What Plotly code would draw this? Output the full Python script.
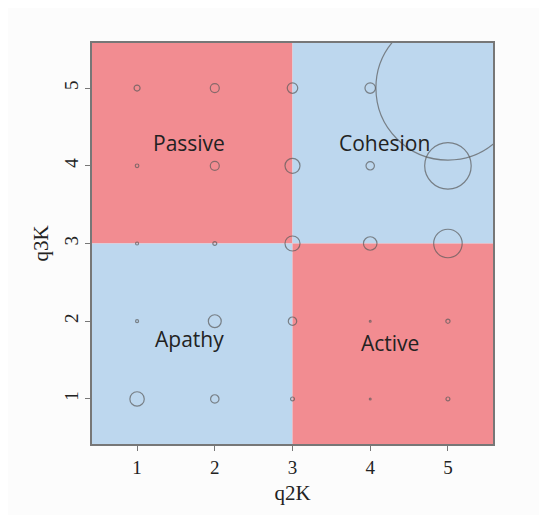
import plotly.graph_objects as go

# Data: grid points (q2K, q3K) and circle magnitude (radius units)
q2K = [1, 2, 3, 4, 5,
       1, 2, 3, 4, 5,
       1, 2, 3, 4, 5,
       1, 2, 3, 4, 5,
       1, 2, 3, 4, 5]
q3K = [5, 5, 5, 5, 5,
       4, 4, 4, 4, 4,
       3, 3, 3, 3, 3,
       2, 2, 2, 2, 2,
       1, 1, 1, 1, 1]
freq = [2, 3, 3.5, 3.5, 48,
        1.2, 3, 5, 2.8, 15.5,
        1, 1.3, 5, 4.5, 9.5,
        1, 4.3, 2.8, 0.6, 1.4,
        4.8, 2.8, 1.3, 0.6, 1.3]

quadrant_names = ["Passive", "Cohesion", "Apathy", "Active"]
label_x = [1.67, 4.19, 1.68, 4.25]
label_y = [4.29, 4.29, 1.77, 1.72]

RED = "#F28C91"
BLUE = "#BDD7EE"
lo, mid, hi = 0.42, 3.0, 5.58
px_per_unit = 1.5

fig = go.Figure()

quads = [(lo, mid, mid, hi, RED), (mid, hi, mid, hi, BLUE),
         (lo, mid, lo, mid, BLUE), (mid, hi, lo, mid, RED)]
for x0, x1, y0, y1, c in quads:
    fig.add_shape(type="rect", xref="x", yref="y", x0=x0, x1=x1, y0=y0, y1=y1,
                  fillcolor=c, line=dict(width=0), layer="below")

fig.add_trace(go.Scatter(
    x=q2K, y=q3K, mode="markers",
    marker=dict(symbol="circle-open", size=[2 * f * px_per_unit for f in freq],
                sizemode="diameter", color="#5a5a5a", line=dict(width=1.2, color="#5a5a5a")),
    hoverinfo="x+y", showlegend=False, cliponaxis=True))

for name, lx, ly in zip(quadrant_names, label_x, label_y):
    fig.add_annotation(x=lx, y=ly, text=name, showarrow=False,
                       font=dict(family="Open Sans", size=21, color="#222222"))

axis_common = dict(range=[lo, hi], tickvals=[1, 2, 3, 4, 5], ticks="outside", ticklen=5,
                   tickcolor="#777777", showline=True, linecolor="#777777", linewidth=1.5,
                   mirror=True, showgrid=False, zeroline=False,
                   tickfont=dict(family="Liberation Serif", size=19, color="#222222"))

fig.update_xaxes(**axis_common, title=dict(text="q2K", standoff=9,
                 font=dict(family="Liberation Serif", size=21, color="#222222")))
fig.update_yaxes(**axis_common, tickangle=-90, title=dict(text="q3K", standoff=6,
                 font=dict(family="Liberation Serif", size=21, color="#222222")))

fig.update_layout(width=547, height=515, margin=dict(l=84, r=62, t=35, b=79),
                  paper_bgcolor="#fcfcfc", plot_bgcolor="white")

fig.write_html("out.html")
